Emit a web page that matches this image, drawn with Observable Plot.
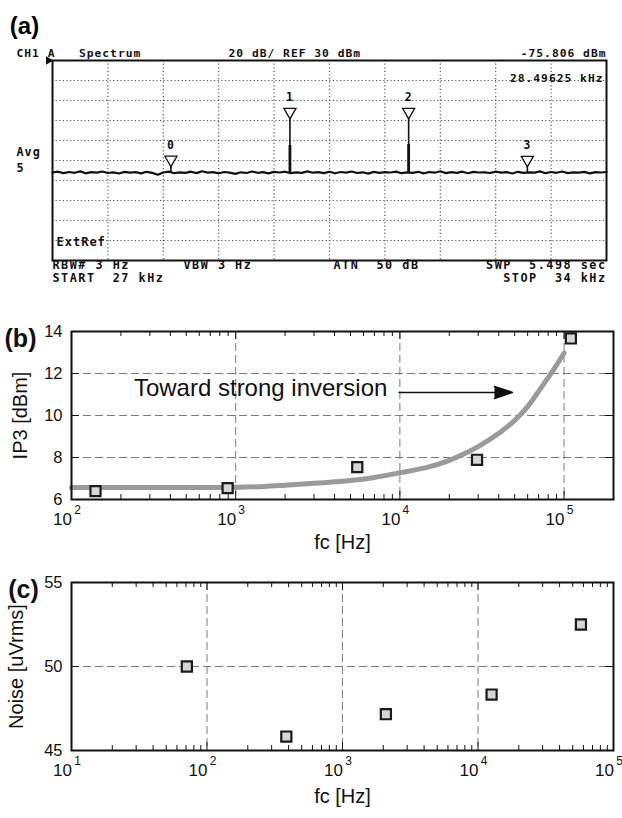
<!DOCTYPE html>
<html>
<head>
<meta charset="utf-8">
<script src="https://cdn.jsdelivr.net/npm/d3@7"></script>
<script src="https://cdn.jsdelivr.net/npm/@observablehq/plot@0.6"></script>
<style>
  html, body { margin: 0; padding: 0; background: #fff; }
  #root { position: relative; width: 622px; height: 818px; overflow: hidden; background: #fff; }
  #root svg { position: absolute; left: 0; }
</style>
</head>
<body>
<div id="root"></div>
<script>
// ---------------- Panel (a): spectrum analyzer screen ----------------
const sweepStartKHz = 27;
const sweepStopKHz = 34;
const refLevelDbm = 30;
const dbPerDiv = 20;
const divisions = 10;
// noise floor trace in dBm (sweep points)
const noiseFloorDbm = [
  -82.0,-81.2,-82.6,-81.5,-82.3,-80.9,-82.8,-81.7,-82.1,-81.0,
  -82.5,-81.8,-83.0,-81.4,-82.2,-81.6,-82.9,-81.3,-82.4,-84.2,
  -82.0,-81.1,-82.7,-81.9,-82.3,-81.2,-82.6,-80.8,-82.1,-81.7,
  -82.8,-81.5,-82.2,-83.4,-81.8,-82.5,-81.0,-82.3,-81.6,-82.9,
  -81.4,-82.0,-81.2,-82.7,-81.9,-82.4,-80.9,-82.2,-81.7,-82.6,
  -81.3,-82.8,-81.5,-82.1,-81.0,-82.5,-81.8,-83.1,-81.4,-82.3,
  -81.6,-82.0,-81.1,-82.7,-81.9,-82.4,-81.3,-82.9,-81.5,-82.2,
  -80.8,-82.6,-81.7,-82.3,-81.2,-82.8,-81.4,-82.0,-81.8,-82.5,
  -81.1,-82.2,-81.6,-83.0,-81.3,-82.4,-81.9,-82.1,-80.9,-82.7,
  -81.5,-82.3,-81.0,-82.6,-81.8,-82.2,-81.4,-82.9,-81.6,-82.0,-81.5
];
const floorLevelDbm = -82;
const markerLabels = ["0", "1", "2", "3"];
const markerFreqKHz = [28.49625, 30.0, 31.5, 33.0];
const markerLevelDbm = [-75.8, -28, -28, -76];
const toneBodyTopDbm = [null, -55, -54, null];
const headerLeft = "CH1 A   Spectrum";
const headerMid = "20 dB/ REF 30 dBm";
const headerRight = "-75.806 dBm";
const markerReadout = "28.49625 kHz";
const avgLabel = ["Avg", "5"];
const extRef = "ExtRef";
const footer1 = ["RBW# 3 Hz", "VBW 3 Hz", "ATN  50 dB", "SWP  5.498 sec"];
const footer2 = ["START  27 kHz", "STOP  34 kHz"];

// ---------------- Panel (b): IP3 vs fc ----------------
const ip3MeasFc = [140, 893, 5500, 29500, 110000];
const ip3MeasDbm = [6.40, 6.54, 7.54, 7.89, 13.67];
const ip3CurveFc = [100, 200, 500, 1000, 1500, 2000, 3000, 5000, 7000, 10000, 15000, 20000, 25000, 30000, 40000, 50000, 60000, 70000, 80000, 90000, 100000];
const ip3CurveDbm = [6.57, 6.57, 6.57, 6.58, 6.62, 6.68, 6.77, 6.9, 7.05, 7.27, 7.55, 7.86, 8.2, 8.52, 9.15, 9.76, 10.42, 11.15, 11.8, 12.4, 12.97];
const ip3Annotation = [{x: 240, y: 11.29, text: "Toward strong inversion"}];
const ip3Arrow = [{x1: 9900, x2: 48500, y: 11.1}];
const ip3YTicks = [6, 8, 10, 12, 14];
const ip3XDecades = [100, 1000, 10000, 100000];

// ---------------- Panel (c): Noise vs fc ----------------
const noiseFc = [71, 385, 2090, 12600, 57500];
const noiseUv = [50.0, 45.83, 47.16, 48.33, 52.5];
const noiseYTicks = [45, 50, 55];
const noiseXDecades = [10, 100, 1000, 10000, 100000];

// ---------------- helpers ----------------
const expOf = d => String(Math.round(Math.log10(d)));
const minorTicks = (lo, hi) => d3.range(Math.round(Math.log10(lo)), Math.round(Math.log10(hi)) + 1)
  .flatMap(e => d3.range(2, 10).map(m => m * Math.pow(10, e)))
  .filter(v => v > lo && v < hi);

const root = document.getElementById("root");
function place(svg, top) { svg.style.top = top + "px"; root.appendChild(svg); }

const sans = "'Liberation Sans', Arial, Helvetica, sans-serif";
const mono = "'DejaVu Sans Mono', monospace";

// ======== Panel (a) ========
{
  const W = 622, H = 300, mL = 52, mR = 16, mT = 60, mB = 40;
  const trace = noiseFloorDbm.map((v, i) => ({f: sweepStartKHz + i * (sweepStopKHz - sweepStartKHz) / (noiseFloorDbm.length - 1), dbm: v}));
  const markers = markerLabels.map((l, i) => ({label: l, f: markerFreqKHz[i], level: markerLevelDbm[i], body: toneBodyTopDbm[i]}));
  const divW = (sweepStopKHz - sweepStartKHz) / divisions;
  const gridF = d3.range(1, divisions).map(k => sweepStartKHz + k * divW);
  const gridL = d3.range(1, divisions).map(k => refLevelDbm - k * dbPerDiv);
  const small = {fontFamily: mono, fontWeight: "bold", fill: "#111"};
  const svgA = Plot.plot({
    width: W, height: H, marginLeft: mL, marginRight: mR, marginTop: mT, marginBottom: mB,
    x: {domain: [sweepStartKHz, sweepStopKHz], axis: null},
    y: {domain: [refLevelDbm - divisions * dbPerDiv, refLevelDbm], axis: null},
    style: {background: "transparent"},
    marks: [
      Plot.ruleX(gridF, {x: d => d, stroke: "#555", strokeWidth: 1.2, strokeDasharray: "1.2,2.4"}),
      Plot.ruleY(gridL, {y: d => d, stroke: "#555", strokeWidth: 1.2, strokeDasharray: "1.2,2.4"}),
      Plot.line(trace, {x: "f", y: "dbm", stroke: "#111", strokeWidth: 2.2}),
      Plot.ruleX(markers, {x: "f", y1: floorLevelDbm, y2: "level", stroke: "#111", strokeWidth: 1.6}),
      Plot.ruleX(markers.filter(d => d.body != null), {x: "f", y1: floorLevelDbm, y2: "body", stroke: "#111", strokeWidth: 2.8}),
      Plot.dot(markers, {x: "f", y: "level", symbol: "triangle", rotate: 180, r: 4.5, dy: -6.6, fill: "white", stroke: "#111", strokeWidth: 1.3}),
      Plot.text(markers, {x: "f", y: "level", text: "label", dy: -21, fontSize: 11.5, ...small}),
      Plot.frame({stroke: "#111", strokeWidth: 2}),
      Plot.dot([0], {frameAnchor: "top-left", dx: -4, symbol: "triangle", rotate: 90, r: 3.2, fill: "#111", stroke: "none"}),
      Plot.text([headerLeft], {text: d => d, frameAnchor: "top-left", textAnchor: "start", dx: -36, dy: -12, fontSize: 11.3, ...small}),
      Plot.text([headerMid], {text: d => d, frameAnchor: "top-left", textAnchor: "start", dx: 176, dy: -12, fontSize: 11.3, ...small}),
      Plot.text([headerRight], {text: d => d, frameAnchor: "top-right", textAnchor: "end", dx: 0, dy: -12, fontSize: 11.3, ...small}),
      Plot.text([markerReadout], {text: d => d, frameAnchor: "top-right", textAnchor: "end", dx: -3, dy: 13, fontSize: 11.3, ...small}),
      Plot.text([avgLabel[0]], {text: d => d, frameAnchor: "left", textAnchor: "start", dx: -36, dy: -8, fontSize: 11.8, ...small}),
      Plot.text([avgLabel[1]], {text: d => d, frameAnchor: "left", textAnchor: "start", dx: -36, dy: 8, fontSize: 11.8, ...small}),
      Plot.text([extRef], {text: d => d, frameAnchor: "bottom-left", textAnchor: "start", dx: 4, dy: -15, fontSize: 12, ...small}),
      Plot.text([footer1[0]], {text: d => d, frameAnchor: "bottom-left", textAnchor: "start", dx: 0, dy: 8, fontSize: 11.8, ...small}),
      Plot.text([footer1[1]], {text: d => d, frameAnchor: "bottom-left", textAnchor: "start", dx: 131, dy: 8, fontSize: 11.8, ...small}),
      Plot.text([footer1[2]], {text: d => d, frameAnchor: "bottom-left", textAnchor: "start", dx: 281, dy: 8, fontSize: 11.8, ...small}),
      Plot.text([footer1[3]], {text: d => d, frameAnchor: "bottom-right", textAnchor: "end", dx: 0, dy: 8, fontSize: 11.8, ...small}),
      Plot.text([footer2[0]], {text: d => d, frameAnchor: "bottom-left", textAnchor: "start", dx: 0, dy: 21, fontSize: 11.8, ...small}),
      Plot.text([footer2[1]], {text: d => d, frameAnchor: "bottom-right", textAnchor: "end", dx: 0, dy: 21, fontSize: 11.8, ...small}),
      Plot.text(["(a)"], {text: d => d, frameAnchor: "top-left", textAnchor: "middle", dx: -28, dy: -44, fontSize: 24, fontWeight: "bold", fontFamily: sans})
    ]
  });
  svgA.style.letterSpacing = "1px";
  svgA.querySelectorAll("text").forEach(t => {
    if (t.textContent === "(a)") t.style.letterSpacing = "0px";
    else if (["RBW#","VBW ","ATN ","SWP ","STAR","STOP"].includes(t.textContent.slice(0,4))) t.style.letterSpacing = "1.5px";
  });
  place(svgA, 0);
}

// generic log panel builder
function logPanel({top, H, mT, mB, xDomain, yDomain, decades, yTicks, gridYs, label, ylabel, tickPad, titleDy, ylabelDx, panelDx, panelDy, marks}) {
  const W = 622, mL = 71, mR = 9;
  const fw = W - mL - mR, fh = H - mT - mB;
  const minors = minorTicks(xDomain[0], xDomain[1]);
  const inner = decades.filter(d => d > xDomain[0] && d < xDomain[1]);
  const dash = {stroke: "#7a7a7a", strokeOpacity: 1, strokeWidth: 1, strokeDasharray: "8,4"};
  const svg = Plot.plot({
    width: W, height: H, marginLeft: mL, marginRight: mR, marginTop: mT, marginBottom: mB,
    x: {type: "log", domain: xDomain},
    y: {domain: yDomain},
    style: {background: "transparent", fontFamily: sans},
    marks: [
      Plot.gridX(inner, dash),
      Plot.gridY(gridYs, dash),
      Plot.tickX(minors, {x: d => d, insetTop: fh - 5, stroke: "#111", strokeWidth: 1}),
      Plot.tickX(minors, {x: d => d, insetBottom: fh - 5, stroke: "#111", strokeWidth: 1}),
      Plot.tickX(inner, {x: d => d, insetTop: fh - 8, stroke: "#111", strokeWidth: 1}),
      Plot.tickX(inner, {x: d => d, insetBottom: fh - 8, stroke: "#111", strokeWidth: 1}),
      Plot.tickY(yTicks, {y: d => d, insetRight: fw - 8, stroke: "#111", strokeWidth: 1}),
      Plot.tickY(yTicks, {y: d => d, insetLeft: fw - 8, stroke: "#111", strokeWidth: 1}),
      ...marks,
      Plot.frame({stroke: "#111", strokeWidth: 2}),
      Plot.axisX(decades, {tickSize: 0, tickPadding: tickPad, tickFormat: () => "10", dx: -9, fontSize: 17, fill: "#111", label: null}),
      Plot.axisX(decades, {tickSize: 0, tickPadding: tickPad, tickFormat: expOf, dx: 6, dy: -7, fontSize: 12, fill: "#111", label: null}),
      Plot.axisY(yTicks, {tickSize: 0, tickPadding: 9, fontSize: 16.5, fill: "#111", label: null}),
      Plot.text(["fc [Hz]"], {text: d => d, frameAnchor: "bottom", dy: titleDy, fontSize: 20, fill: "#111"}),
      Plot.text([ylabel], {text: d => d, frameAnchor: "left", textAnchor: "middle", dx: ylabelDx, rotate: -90, fontSize: 20, fill: "#111"}),
      Plot.text([label], {text: d => d, frameAnchor: "top-left", textAnchor: "middle", dx: panelDx, dy: panelDy, fontSize: 25, fontWeight: "bold", fill: "#111"})
    ]
  });
  place(svg, top);
}

// ======== Panel (b) ========
{
  const curve = ip3CurveFc.map((f, i) => ({f, v: ip3CurveDbm[i]}));
  const pts = ip3MeasFc.map((f, i) => ({f, v: ip3MeasDbm[i]}));
  logPanel({
    top: 300, H: 265, mT: 31, mB: 66,
    xDomain: [100, 200000], yDomain: [6, 14],
    decades: ip3XDecades, yTicks: ip3YTicks, gridYs: [8, 10, 12],
    label: "(b)", ylabel: "IP3 [dBm]", tickPad: 13, titleDy: 49, ylabelDx: -51, panelDx: -51, panelDy: -2,
    marks: [
      Plot.line(curve, {x: "f", y: "v", stroke: "#9a9a9a", strokeWidth: 5, curve: "monotone-x"}),
      Plot.text(ip3Annotation, {x: "x", y: "y", text: "text", textAnchor: "start", fontSize: 24, fill: "#111"}),
      Plot.arrow(ip3Arrow, {x1: "x1", x2: "x2", y1: "y", y2: "y", stroke: "#111", fill: "#111", strokeWidth: 1.5, headAngle: 37, headLength: 19}),
      Plot.dot(pts, {x: "f", y: "v", symbol: "square", r: 5.7, fill: "#d6d6d6", stroke: "#1a1a1a", strokeWidth: 2.2})
    ]
  });
}

// ======== Panel (c) ========
{
  const pts = noiseFc.map((f, i) => ({f, v: noiseUv[i]}));
  logPanel({
    top: 565, H: 253, mT: 17, mB: 68,
    xDomain: [10, 100000], yDomain: [45, 55],
    decades: noiseXDecades, yTicks: noiseYTicks, gridYs: [50],
    label: "(c)", ylabel: "Noise [uVrms]", tickPad: 13, titleDy: 52, ylabelDx: -55, panelDx: -48, panelDy: -2,
    marks: [
      Plot.dot(pts, {x: "f", y: "v", symbol: "square", r: 5.7, fill: "#d6d6d6", stroke: "#1a1a1a", strokeWidth: 2.2})
    ]
  });
}
</script>
</body>
</html>
